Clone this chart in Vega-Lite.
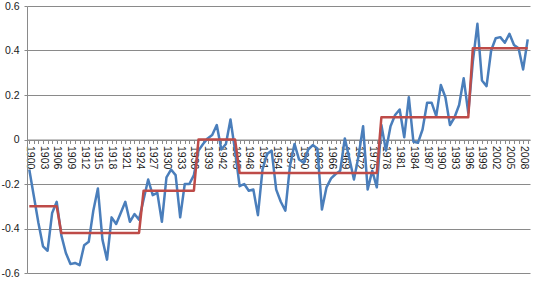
{
  "$schema": "https://vega.github.io/schema/vega-lite/v6.json",
  "autosize": "none",
  "width": 503,
  "height": 267,
  "padding": {"left": 27, "top": 6, "right": 8, "bottom": 8},
  "background": "white",
  "data": {"values": [
    {"year": 1900, "anomaly": -0.135, "step": -0.30},
    {"year": 1901, "anomaly": -0.255, "step": -0.30},
    {"year": 1902, "anomaly": -0.375, "step": -0.30},
    {"year": 1903, "anomaly": -0.48, "step": -0.30},
    {"year": 1904, "anomaly": -0.50, "step": -0.30},
    {"year": 1905, "anomaly": -0.33, "step": -0.30},
    {"year": 1906, "anomaly": -0.28, "step": -0.30},
    {"year": 1907, "anomaly": -0.43, "step": -0.42},
    {"year": 1908, "anomaly": -0.51, "step": -0.42},
    {"year": 1909, "anomaly": -0.56, "step": -0.42},
    {"year": 1910, "anomaly": -0.555, "step": -0.42},
    {"year": 1911, "anomaly": -0.565, "step": -0.42},
    {"year": 1912, "anomaly": -0.475, "step": -0.42},
    {"year": 1913, "anomaly": -0.46, "step": -0.42},
    {"year": 1914, "anomaly": -0.32, "step": -0.42},
    {"year": 1915, "anomaly": -0.22, "step": -0.42},
    {"year": 1916, "anomaly": -0.45, "step": -0.42},
    {"year": 1917, "anomaly": -0.54, "step": -0.42},
    {"year": 1918, "anomaly": -0.35, "step": -0.42},
    {"year": 1919, "anomaly": -0.38, "step": -0.42},
    {"year": 1920, "anomaly": -0.33, "step": -0.42},
    {"year": 1921, "anomaly": -0.28, "step": -0.42},
    {"year": 1922, "anomaly": -0.37, "step": -0.42},
    {"year": 1923, "anomaly": -0.335, "step": -0.42},
    {"year": 1924, "anomaly": -0.36, "step": -0.42},
    {"year": 1925, "anomaly": -0.27, "step": -0.23},
    {"year": 1926, "anomaly": -0.18, "step": -0.23},
    {"year": 1927, "anomaly": -0.25, "step": -0.23},
    {"year": 1928, "anomaly": -0.24, "step": -0.23},
    {"year": 1929, "anomaly": -0.37, "step": -0.23},
    {"year": 1930, "anomaly": -0.17, "step": -0.23},
    {"year": 1931, "anomaly": -0.135, "step": -0.23},
    {"year": 1932, "anomaly": -0.16, "step": -0.23},
    {"year": 1933, "anomaly": -0.35, "step": -0.23},
    {"year": 1934, "anomaly": -0.20, "step": -0.23},
    {"year": 1935, "anomaly": -0.20, "step": -0.23},
    {"year": 1936, "anomaly": -0.16, "step": -0.23},
    {"year": 1937, "anomaly": -0.05, "step": 0.0},
    {"year": 1938, "anomaly": -0.02, "step": 0.0},
    {"year": 1939, "anomaly": 0.005, "step": 0.0},
    {"year": 1940, "anomaly": 0.02, "step": 0.0},
    {"year": 1941, "anomaly": 0.065, "step": 0.0},
    {"year": 1942, "anomaly": -0.045, "step": 0.0},
    {"year": 1943, "anomaly": -0.02, "step": 0.0},
    {"year": 1944, "anomaly": 0.09, "step": 0.0},
    {"year": 1945, "anomaly": -0.05, "step": 0.0},
    {"year": 1946, "anomaly": -0.21, "step": -0.15},
    {"year": 1947, "anomaly": -0.20, "step": -0.15},
    {"year": 1948, "anomaly": -0.23, "step": -0.15},
    {"year": 1949, "anomaly": -0.225, "step": -0.15},
    {"year": 1950, "anomaly": -0.34, "step": -0.15},
    {"year": 1951, "anomaly": -0.135, "step": -0.15},
    {"year": 1952, "anomaly": -0.065, "step": -0.15},
    {"year": 1953, "anomaly": -0.05, "step": -0.15},
    {"year": 1954, "anomaly": -0.225, "step": -0.15},
    {"year": 1955, "anomaly": -0.28, "step": -0.15},
    {"year": 1956, "anomaly": -0.32, "step": -0.15},
    {"year": 1957, "anomaly": -0.12, "step": -0.15},
    {"year": 1958, "anomaly": -0.02, "step": -0.15},
    {"year": 1959, "anomaly": -0.09, "step": -0.15},
    {"year": 1960, "anomaly": -0.105, "step": -0.15},
    {"year": 1961, "anomaly": -0.045, "step": -0.15},
    {"year": 1962, "anomaly": -0.025, "step": -0.15},
    {"year": 1963, "anomaly": -0.04, "step": -0.15},
    {"year": 1964, "anomaly": -0.315, "step": -0.15},
    {"year": 1965, "anomaly": -0.215, "step": -0.15},
    {"year": 1966, "anomaly": -0.175, "step": -0.15},
    {"year": 1967, "anomaly": -0.155, "step": -0.15},
    {"year": 1968, "anomaly": -0.14, "step": -0.15},
    {"year": 1969, "anomaly": 0.005, "step": -0.15},
    {"year": 1970, "anomaly": -0.085, "step": -0.15},
    {"year": 1971, "anomaly": -0.18, "step": -0.15},
    {"year": 1972, "anomaly": -0.075, "step": -0.15},
    {"year": 1973, "anomaly": 0.06, "step": -0.15},
    {"year": 1974, "anomaly": -0.225, "step": -0.15},
    {"year": 1975, "anomaly": -0.14, "step": -0.15},
    {"year": 1976, "anomaly": -0.215, "step": -0.15},
    {"year": 1977, "anomaly": 0.065, "step": 0.10},
    {"year": 1978, "anomaly": -0.05, "step": 0.10},
    {"year": 1979, "anomaly": 0.06, "step": 0.10},
    {"year": 1980, "anomaly": 0.11, "step": 0.10},
    {"year": 1981, "anomaly": 0.135, "step": 0.10},
    {"year": 1982, "anomaly": 0.01, "step": 0.10},
    {"year": 1983, "anomaly": 0.19, "step": 0.10},
    {"year": 1984, "anomaly": -0.01, "step": 0.10},
    {"year": 1985, "anomaly": -0.015, "step": 0.10},
    {"year": 1986, "anomaly": 0.045, "step": 0.10},
    {"year": 1987, "anomaly": 0.165, "step": 0.10},
    {"year": 1988, "anomaly": 0.165, "step": 0.10},
    {"year": 1989, "anomaly": 0.105, "step": 0.10},
    {"year": 1990, "anomaly": 0.245, "step": 0.10},
    {"year": 1991, "anomaly": 0.19, "step": 0.10},
    {"year": 1992, "anomaly": 0.065, "step": 0.10},
    {"year": 1993, "anomaly": 0.10, "step": 0.10},
    {"year": 1994, "anomaly": 0.155, "step": 0.10},
    {"year": 1995, "anomaly": 0.275, "step": 0.10},
    {"year": 1996, "anomaly": 0.12, "step": 0.10},
    {"year": 1997, "anomaly": 0.35, "step": 0.41},
    {"year": 1998, "anomaly": 0.52, "step": 0.41},
    {"year": 1999, "anomaly": 0.265, "step": 0.41},
    {"year": 2000, "anomaly": 0.24, "step": 0.41},
    {"year": 2001, "anomaly": 0.40, "step": 0.41},
    {"year": 2002, "anomaly": 0.455, "step": 0.41},
    {"year": 2003, "anomaly": 0.46, "step": 0.41},
    {"year": 2004, "anomaly": 0.435, "step": 0.41},
    {"year": 2005, "anomaly": 0.475, "step": 0.41},
    {"year": 2006, "anomaly": 0.425, "step": 0.41},
    {"year": 2007, "anomaly": 0.41, "step": 0.41},
    {"year": 2008, "anomaly": 0.315, "step": 0.41},
    {"year": 2009, "anomaly": 0.45, "step": 0.41}
  ]},
  "encoding": {
    "x": {
      "field": "year",
      "type": "quantitative",
      "scale": {"domain": [1899.5, 2009.5], "nice": false, "zero": false},
      "axis": {
        "title": null,
        "offset": -133.5,
        "grid": false,
        "domainColor": "#8a8a8a",
        "domainWidth": 1,
        "tickColor": "#8a8a8a",
        "tickSize": 4,
        "labelAngle": 90,
        "labelPadding": 2,
        "labelOverlap": false,
        "labelFlush": false,
        "labelBound": false,
        "labelFont": "Liberation Sans",
        "labelFontSize": 10.5,
        "labelColor": "#1a1a1a",
        "values": [1900,1901,1902,1903,1904,1905,1906,1907,1908,1909,1910,1911,1912,1913,1914,1915,1916,1917,1918,1919,1920,1921,1922,1923,1924,1925,1926,1927,1928,1929,1930,1931,1932,1933,1934,1935,1936,1937,1938,1939,1940,1941,1942,1943,1944,1945,1946,1947,1948,1949,1950,1951,1952,1953,1954,1955,1956,1957,1958,1959,1960,1961,1962,1963,1964,1965,1966,1967,1968,1969,1970,1971,1972,1973,1974,1975,1976,1977,1978,1979,1980,1981,1982,1983,1984,1985,1986,1987,1988,1989,1990,1991,1992,1993,1994,1995,1996,1997,1998,1999,2000,2001,2002,2003,2004,2005,2006,2007,2008,2009],
        "labelExpr": "(datum.value - 1900) % 3 == 0 ? toString(datum.value) : ''"
      }
    }
  },
  "layer": [
    {
      "mark": {"type": "line", "color": "#4a7ebb", "strokeWidth": 2.5, "strokeJoin": "round"},
      "encoding": {
        "y": {"field": "anomaly", "type": "quantitative", "scale": {"domain": [-0.6, 0.6], "nice": false, "zero": false}, "axis": {"title": null}}
      }
    },
    {
      "mark": {"type": "line", "color": "#be4b48", "strokeWidth": 2.5, "strokeJoin": "round"},
      "encoding": {
        "y": {"field": "step", "type": "quantitative", "axis": {"title": null}}
      }
    }
  ],
  "config": {
    "view": {"stroke": null},
    "axisY": {
      "tickCount": 6,
      "grid": true,
      "gridColor": "#8a8a8a",
      "gridWidth": 1,
      "domainColor": "#8a8a8a",
      "tickColor": "#8a8a8a",
      "tickSize": 3,
      "labelPadding": 5,
      "labelFont": "Liberation Sans",
      "labelFontSize": 10.5,
      "labelColor": "#1a1a1a",
      "labelExpr": "toString(round(datum.value * 10) / 10)"
    }
  }
}
